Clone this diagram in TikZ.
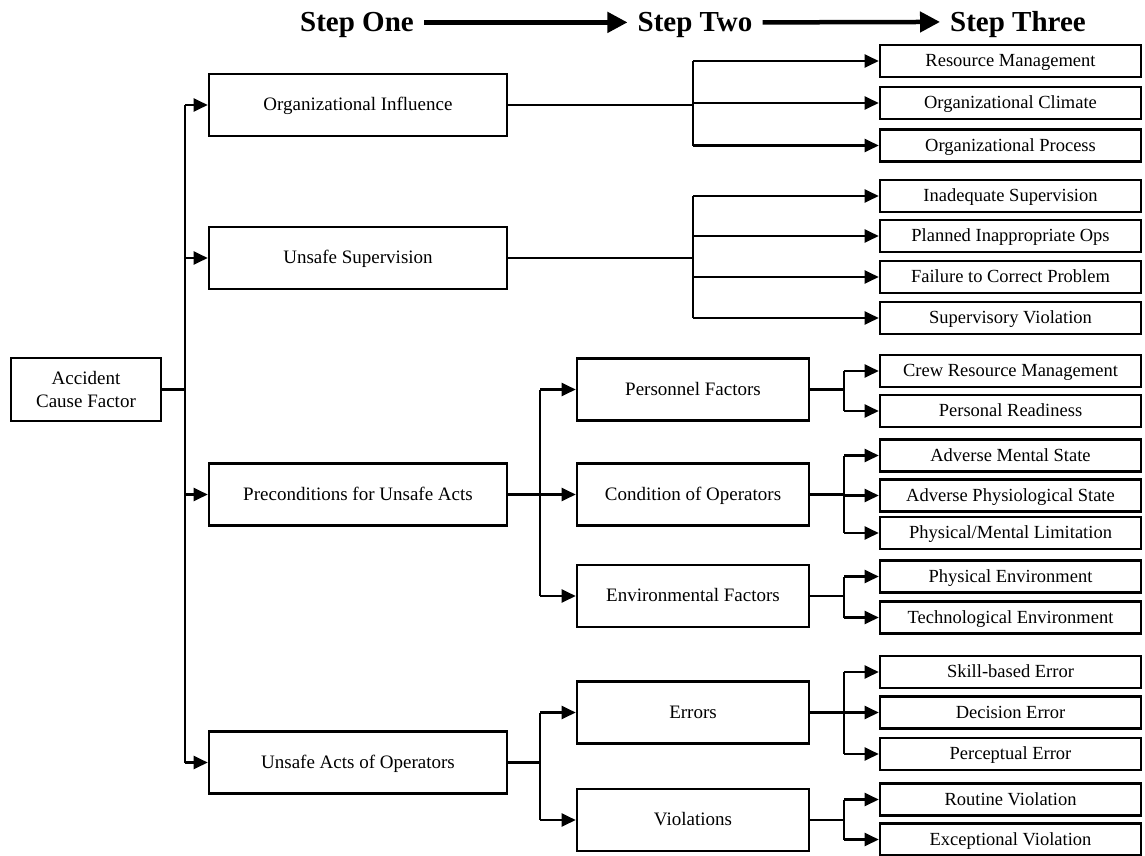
\documentclass[tikz,border=0pt]{standalone}
\usepackage{fontspec}
\setmainfont{Liberation Serif}
\usetikzlibrary{arrows.meta}
\begin{document}
\begin{tikzpicture}[x=1pt,y=-1pt,
  box/.style={draw,line width=2.6pt,inner sep=0pt,align=center,font=\fontsize{18.5}{23}\selectfont},
  oneline/.style={text height=12.4pt,text depth=0.5pt},
  big/.style={box,oneline,minimum width=298pt,minimum height=62pt,font=\fontsize{19}{23}\selectfont},
  mid/.style={box,oneline,minimum width=232pt,minimum height=62pt,font=\fontsize{19}{23}\selectfont},
  leaf/.style={box,oneline,minimum width=261pt,minimum height=32pt},
  link/.style={line width=2.2pt},
  tip/.style={link,-{Triangle[length=14pt,width=13pt]}},
  head/.style={font=\fontsize{29}{31}\selectfont\bfseries,inner sep=0pt,inner xsep=10pt,text depth=0pt,anchor=base},
  flow/.style={line width=4.5pt,-{Triangle[length=20pt,width=20pt]}}]
\useasboundingbox (0,0) rectangle (1145,856);

% stage headings
\node[head] (s1) at (357,32) {Step One};
\node[head] (s2) at (695,32) {Step Two};
\node[head] (s3) at (1018,32) {Step Three};
\draw[flow] (s1.east) -- (s2.west);
\draw[flow] (s2.east) -- (s3.west);

% root
\node[box,minimum width=150pt,minimum height=63pt,font=\fontsize{19}{23}\selectfont] (acf) at (86,389.5) {Accident\\Cause Factor};

% first level
\node[big] (oi) at (358,105)   {Organizational Influence};
\node[big] (us) at (358,258)   {Unsafe Supervision};
\node[big] (pc) at (358,494.5) {Preconditions for Unsafe Acts};
\node[big] (ua) at (358,762.5) {Unsafe Acts of Operators};

% second level
\node[mid] (pf) at (693,389.5) {Personnel Factors};
\node[mid] (co) at (693,494.5) {Condition of Operators};
\node[mid] (ef) at (693,596)   {Environmental Factors};
\node[mid] (er) at (693,712.5) {Errors};
\node[mid] (vi) at (693,820)   {Violations};

% third level
\node[leaf] (rm)  at (1010.5,61)    {Resource Management};
\node[leaf] (ocl) at (1010.5,103)   {Organizational Climate};
\node[leaf] (op)  at (1010.5,145.5) {Organizational Process};
\node[leaf] (is)  at (1010.5,196)   {Inadequate Supervision};
\node[leaf] (pio) at (1010.5,236)   {Planned Inappropriate Ops};
\node[leaf] (fcp) at (1010.5,277)   {Failure to Correct Problem};
\node[leaf] (sv)  at (1010.5,318)   {Supervisory Violation};
\node[leaf] (crm) at (1010.5,371)   {Crew Resource Management};
\node[leaf] (pr)  at (1010.5,411)   {Personal Readiness};
\node[leaf] (ams) at (1010.5,455.5) {Adverse Mental State};
\node[leaf] (aps) at (1010.5,495.5) {Adverse Physiological State};
\node[leaf] (pml) at (1010.5,533)   {Physical/Mental Limitation};
\node[leaf] (pe)  at (1010.5,576.5) {Physical Environment};
\node[leaf] (te)  at (1010.5,617.5) {Technological Environment};
\node[leaf] (sbe) at (1010.5,672)   {Skill-based Error};
\node[leaf] (de)  at (1010.5,712.5) {Decision Error};
\node[leaf] (pe2) at (1010.5,754)   {Perceptual Error};
\node[leaf] (rv)  at (1010.5,799.5) {Routine Violation};
\node[leaf] (ev)  at (1010.5,839.5) {Exceptional Violation};

% bus lines
\coordinate (b0) at (185,0);
\coordinate (b1) at (693,0);
\coordinate (b2) at (540,0);
\coordinate (b3) at (844,0);

% root to first level
\draw[link] (acf.east) -- (acf.east -| b0);
\draw[link] (b0 |- oi.west) -- (b0 |- ua.west);
\foreach \c in {oi,us,pc,ua} \draw[tip] (b0 |- \c.west) -- (\c.west);

% organizational influence
\draw[link] (oi.east) -- (oi.east -| b1);
\draw[link] (b1 |- rm.west) -- (b1 |- op.west);
\foreach \c in {rm,ocl,op} \draw[tip] (b1 |- \c.west) -- (\c.west);

% unsafe supervision
\draw[link] (us.east) -- (us.east -| b1);
\draw[link] (b1 |- is.west) -- (b1 |- sv.west);
\foreach \c in {is,pio,fcp,sv} \draw[tip] (b1 |- \c.west) -- (\c.west);

% preconditions
\draw[link] (pc.east) -- (pc.east -| b2);
\draw[link] (b2 |- pf.west) -- (b2 |- ef.west);
\foreach \c in {pf,co,ef} \draw[tip] (b2 |- \c.west) -- (\c.west);

% unsafe acts
\draw[link] (ua.east) -- (ua.east -| b2);
\draw[link] (b2 |- er.west) -- (b2 |- vi.west);
\foreach \c in {er,vi} \draw[tip] (b2 |- \c.west) -- (\c.west);

% second level to third level
\draw[link] (pf.east) -- (pf.east -| b3);
\draw[link] (b3 |- crm.west) -- (b3 |- pr.west);
\foreach \c in {crm,pr} \draw[tip] (b3 |- \c.west) -- (\c.west);

\draw[link] (co.east) -- (co.east -| b3);
\draw[link] (b3 |- ams.west) -- (b3 |- pml.west);
\foreach \c in {ams,aps,pml} \draw[tip] (b3 |- \c.west) -- (\c.west);

\draw[link] (ef.east) -- (ef.east -| b3);
\draw[link] (b3 |- pe.west) -- (b3 |- te.west);
\foreach \c in {pe,te} \draw[tip] (b3 |- \c.west) -- (\c.west);

\draw[link] (er.east) -- (er.east -| b3);
\draw[link] (b3 |- sbe.west) -- (b3 |- pe2.west);
\foreach \c in {sbe,de,pe2} \draw[tip] (b3 |- \c.west) -- (\c.west);

\draw[link] (vi.east) -- (vi.east -| b3);
\draw[link] (b3 |- rv.west) -- (b3 |- ev.west);
\foreach \c in {rv,ev} \draw[tip] (b3 |- \c.west) -- (\c.west);
\end{tikzpicture}
\end{document}
